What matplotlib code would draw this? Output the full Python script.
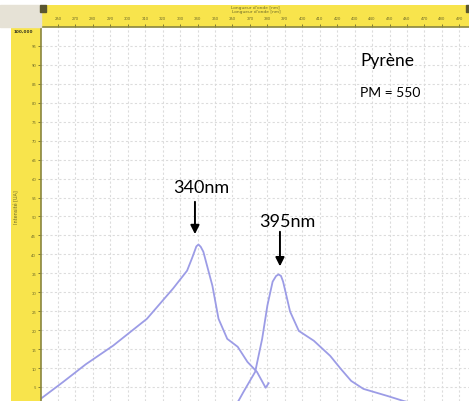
import matplotlib
matplotlib.use("Agg")
import matplotlib.pyplot as plt
from matplotlib.patches import Rectangle

plt.rcParams['font.family'] = ['Lato', 'DejaVu Sans']

# excitation spectrum (left curve)
exc_nm = [248.0, 250.2, 262.9, 276.0, 291.6, 311.0, 326.0, 334.0, 337.0, 339.3, 340.5,
          341.8, 343.3, 348.5, 352.0, 357.0, 363.0, 368.6, 374.0, 379.0, 380.7]
exc_int = [1.0, 1.9, 6.3, 11.0, 15.9, 23.0, 31.0, 35.7, 39.2, 42.1, 42.6,
           42.0, 40.7, 31.7, 23.0, 17.7, 15.6, 11.6, 9.0, 4.8, 6.0]

# emission spectrum (right curve)
em_nm = [361.0, 363.4, 366.3, 373.0, 377.0, 380.0, 383.0, 385.0, 386.4, 387.8, 389.0,
         393.0, 398.0, 406.6, 416.0, 422.0, 428.0, 435.0, 449.0, 458.0, 470.0]
em_int = [0.0, 1.3, 3.7, 9.0, 17.7, 26.5, 32.8, 34.3, 34.7, 34.3, 32.8,
          24.9, 19.8, 17.2, 13.2, 9.8, 6.6, 4.5, 2.6, 1.3, 0.0]

x_ticks = list(range(260, 500, 10))
y_ticks = list(range(5, 100, 5))

W, H = 469, 402
yellow = '#f8e44c'
rule_col = '#6e6a2a'
curve_col = '#9c9ce6'

fig = plt.figure(figsize=(W / 100, H / 100), dpi=100)

# main plot area
ax = fig.add_axes([41 / W, 0, 428 / W, 374 / H])
ax.set_xlim(250.3, 495.5)
ax.set_ylim(1.3, 100)
ax.set_xticks(x_ticks)
ax.set_yticks(y_ticks)
ax.tick_params(left=False, bottom=False, labelleft=False, labelbottom=False)
ax.grid(True, color='#dcdcdc', linestyle=(0, (2, 2)), linewidth=0.8)
for s in ax.spines.values():
    s.set_visible(False)

ax.plot(exc_nm, exc_int, color=curve_col, lw=1.3)
ax.plot(em_nm, em_int, color=curve_col, lw=1.3)

# peak annotations
arrow = dict(arrowstyle='-|>', color='black', lw=1.4, mutation_scale=13)
ax.annotate('', xy=(338.5, 44.6), xytext=(338.5, 54.6), arrowprops=arrow)
ax.annotate('', xy=(387.2, 36.1), xytext=(387.2, 46.7), arrowprops=arrow)
ax.text(342.0, 57.8, '340nm', ha='center', va='center', fontsize=13)
ax.text(391.2, 48.9, '395nm', ha='center', va='center', fontsize=13)
ax.text(433.0, 90.1, 'Pyrène', ha='left', va='baseline', fontsize=12.5)
ax.text(433.0, 81.8, 'PM = 550', ha='left', va='baseline', fontsize=10)

# top ruler
fig.patches.append(Rectangle((0, (H - 28) / H), 41 / W, 22 / H,
                             transform=fig.transFigure, color='#e6e2d6', zorder=0))
axt = fig.add_axes([41 / W, (H - 28) / H, 428 / W, 22 / H], sharex=ax)
axt.set_facecolor(yellow)
axt.set_yticks([])
axt.tick_params(axis='x', direction='in', length=2.5, pad=-8, labelsize=3,
                colors=rule_col, width=0.6)
for name, s in axt.spines.items():
    s.set_visible(name == 'bottom')
axt.spines['bottom'].set_color('#8a8640')
axt.spines['bottom'].set_linewidth(1.2)
axt.text(0.445, 0.98, "Longueur d'onde [nm]", transform=axt.transAxes,
         fontsize=3.2, color=rule_col, va='top', family='DejaVu Sans')
axt.text(0.446, 0.80, "Longueur d'onde [nm]", transform=axt.transAxes,
         fontsize=3.2, color=rule_col, va='top', family='DejaVu Sans')
fig.patches.append(Rectangle((40 / W, (H - 13) / H), 6 / W, 7 / H,
                             transform=fig.transFigure, color='#5a5630', zorder=5))
fig.patches.append(Rectangle((466 / W, (H - 13) / H), 3 / W, 7 / H,
                             transform=fig.transFigure, color='#5a5630', zorder=5))

# left ruler
axl = fig.add_axes([11 / W, 0, 30 / W, 374 / H], sharey=ax)
axl.set_facecolor(yellow)
axl.set_xticks([])
axl.tick_params(axis='y', left=False, right=True, labelleft=False, labelright=True,
                direction='in', length=2.5, pad=-3.5, labelsize=3, colors=rule_col, width=0.6)
for lab in axl.get_yticklabels():
    lab.set_ha('right')
for name, s in axl.spines.items():
    s.set_visible(name == 'right')
axl.spines['right'].set_color('#8a8640')
axl.spines['right'].set_linewidth(1.2)
axl.text(0.18, 0.52, 'Intensité [UA]', transform=axl.transAxes, rotation=90,
         fontsize=3.5, color=rule_col, ha='center', va='center', family='DejaVu Sans')
axl.text(0.08, 0.995, '100,000', transform=axl.transAxes, fontsize=3,
         color='#333320', ha='left', va='top', family='DejaVu Sans', weight='bold')

fig.savefig('out.png', dpi=100)
